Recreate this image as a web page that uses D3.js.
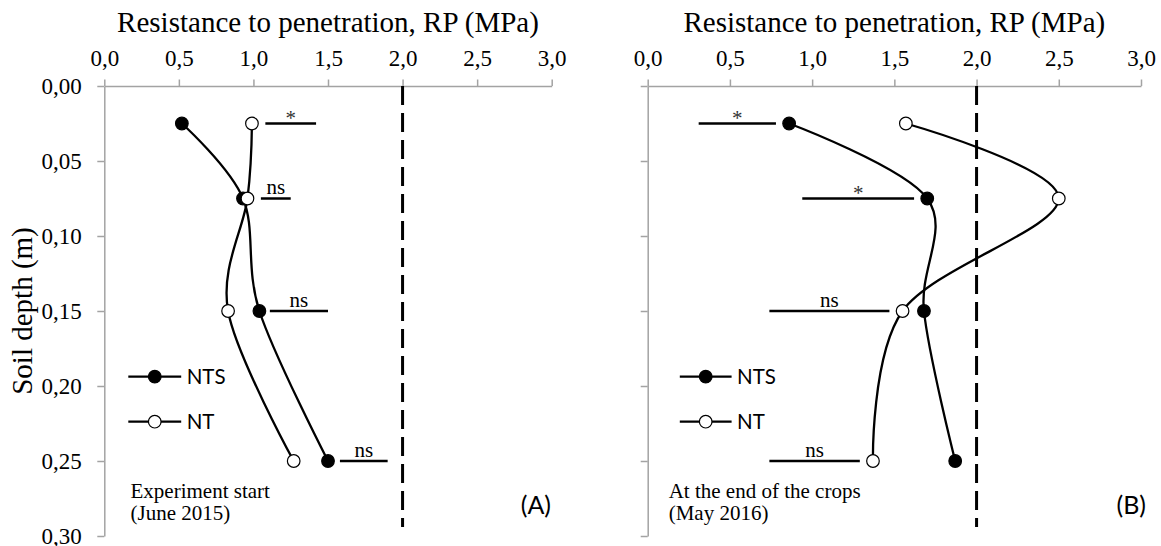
<!DOCTYPE html>
<html>
<head>
<meta charset="utf-8">
<script src="https://cdn.jsdelivr.net/npm/d3@7"></script>
<style>
  html, body { margin: 0; padding: 0; background: #fff; }
  svg { display: block; }
</style>
</head>
<body>
<svg id="chart" width="1161" height="546"></svg>
<script>
// Sampling depths (m)
const depths = [0.025, 0.075, 0.15, 0.25];

// Resistance to penetration (MPa) at the start of the experiment (June 2015)
const ntsStart = [0.52, 0.93, 1.04, 1.50];
const ntStart  = [0.99, 0.96, 0.83, 1.27];

// Resistance to penetration (MPa) at the end of the crops (May 2016)
const ntsEnd = [0.86, 1.70, 1.68, 1.87];
const ntEnd  = [1.57, 2.50, 1.55, 1.37];

// Least significant difference bars and test result per depth
const lsdStartLo = [1.08, 1.05, 1.11, 1.58];
const lsdStartHi = [1.42, 1.25, 1.50, 1.90];
const lsdStartLabel = ["*", "ns", "ns", "ns"];
const lsdEndLo = [0.31, 0.94, 0.74, 0.74];
const lsdEndHi = [0.78, 1.62, 1.47, 1.29];
const lsdEndLabel = ["*", "*", "ns", "ns"];

// Critical resistance threshold (MPa)
const criticalRP = 2.0;

// Axis ticks
const rpTicks = [0, 0.5, 1.0, 1.5, 2.0, 2.5, 3.0];
const depthTicks = [0, 0.05, 0.10, 0.15, 0.20, 0.25, 0.30];

const seriesNames = ["NTS", "NT"];

const svg = d3.select("#chart");
const SERIF = "'Liberation Serif', 'Times New Roman', serif";
const SANS = "Lato, 'Open Sans', sans-serif";
const AXIS_GREY = "#a3a3a3";

const locale = d3.formatLocale({ decimal: ",", thousands: ".", grouping: [3], currency: ["", ""] });
const fmtX = locale.format(".1f");
const fmtY = locale.format(".2f");

const panels = [
  { left: 104.3, right: 551.7, nts: ntsStart, nt: ntStart,
    lo: lsdStartLo, hi: lsdStartHi, lab: lsdStartLabel,
    yLabels: true, legendX: [128.3, 181.2], note: ["Experiment start", "(June 2015)"],
    noteX: 130.5, tag: "(A)", tagX: 551 },
  { left: 647.7, right: 1141, nts: ntsEnd, nt: ntEnd,
    lo: lsdEndLo, hi: lsdEndHi, lab: lsdEndLabel,
    yLabels: false, legendX: [679.8, 731.6], note: ["At the end of the crops", "(May 2016)"],
    noteX: 668.7, tag: "(B)", tagX: 1146 }
];

const plotTop = 86, plotBottom = 536;
const y = d3.scaleLinear().domain([0, 0.30]).range([plotTop, plotBottom]);

panels.forEach(p => {
  const g = svg.append("g");
  const x = d3.scaleLinear().domain([0, 3]).range([p.left, p.right]);

  // Title above the horizontal axis
  g.append("text")
    .attr("x", (p.left + p.right) / 2).attr("y", 31.5)
    .attr("text-anchor", "middle")
    .style("font-family", SERIF).style("font-size", "29px")
    .text("Resistance to penetration, RP (MPa)");

  // Horizontal axis on top
  const xAxis = g.append("g").attr("transform", `translate(0,${plotTop})`)
    .call(d3.axisTop(x).tickValues(rpTicks).tickFormat(fmtX)
      .tickSize(6.5).tickSizeOuter(0).tickPadding(14));
  // Vertical axis on the left
  const yAxis = g.append("g").attr("transform", `translate(${p.left},0)`)
    .call(d3.axisLeft(y).tickValues(depthTicks)
      .tickFormat(p.yLabels ? fmtY : () => "")
      .tickSize(7).tickSizeOuter(0).tickPadding(15.5));
  [xAxis, yAxis].forEach(a => {
    a.attr("font-family", null).attr("font-size", null);
    a.select(".domain").attr("stroke", AXIS_GREY).attr("stroke-width", 1.5);
    a.selectAll(".tick line").attr("stroke", AXIS_GREY).attr("stroke-width", 1.5);
    a.selectAll(".tick text").attr("fill", "#000")
      .style("font-family", SERIF).style("font-size", "23px");
  });

  // Critical resistance line
  g.append("line")
    .attr("x1", x(criticalRP)).attr("x2", x(criticalRP))
    .attr("y1", plotTop).attr("y2", 527)
    .attr("stroke", "#000").attr("stroke-width", 3)
    .attr("stroke-dasharray", "19,8");

  // LSD bars with significance labels
  depths.forEach((d, i) => {
    g.append("line")
      .attr("x1", x(p.lo[i])).attr("x2", x(p.hi[i]))
      .attr("y1", y(d)).attr("y2", y(d))
      .attr("stroke", "#000").attr("stroke-width", 2.5);
    const star = p.lab[i] === "*";
    g.append("text")
      .attr("x", x((p.lo[i] + p.hi[i]) / 2))
      .attr("y", y(d) + (star ? 1 : -4.5))
      .attr("text-anchor", "middle")
      .attr("fill", star ? "#333" : "#000")
      .style("font-family", SERIF).style("font-size", "21px")
      .text(p.lab[i]);
  });

  // Smoothed depth profiles
  const line = d3.line()
    .x(v => x(v[0])).y(v => y(v[1]))
    .curve(d3.curveCardinal.tension(0));
  const series = [
    { name: seriesNames[0], values: p.nts, fill: "#000" },
    { name: seriesNames[1], values: p.nt, fill: "#fff" }
  ];
  series.forEach(s => {
    g.append("path")
      .datum(s.values.map((v, i) => [v, depths[i]]))
      .attr("d", line)
      .attr("fill", "none").attr("stroke", "#000").attr("stroke-width", 2.3);
  });
  series.forEach(s => {
    g.selectAll(null).data(s.values).enter().append("circle")
      .attr("cx", v => x(v)).attr("cy", (v, i) => y(depths[i]))
      .attr("r", 6.3)
      .attr("fill", s.fill).attr("stroke", "#000").attr("stroke-width", 1.2);
  });

  // Legend
  series.forEach((s, k) => {
    const ly = 376.7 + k * 45;
    const [lx1, lx2] = p.legendX;
    g.append("line").attr("x1", lx1).attr("x2", lx2).attr("y1", ly).attr("y2", ly)
      .attr("stroke", "#000").attr("stroke-width", 2.3);
    g.append("circle").attr("cx", (lx1 + lx2) / 2).attr("cy", ly).attr("r", 6.3)
      .attr("fill", s.fill).attr("stroke", "#000").attr("stroke-width", 1.2);
    g.append("text").attr("x", lx2 + 5.5).attr("y", ly + 7.5)
      .style("font-family", SANS).style("font-size", "20.5px")
      .text(s.name);
  });

  // Sampling date note
  p.note.forEach((t, k) => {
    g.append("text").attr("x", p.noteX).attr("y", 497.5 + k * 22.5)
      .style("font-family", SERIF).style("font-size", "21px")
      .text(t);
  });

  // Panel tag
  g.append("text").attr("x", p.tagX).attr("y", 514)
    .attr("text-anchor", "end")
    .style("font-family", SANS).style("font-size", "25px")
    .text(p.tag);
});

// Vertical axis title
svg.append("text")
  .attr("transform", `translate(32,${(plotTop + plotBottom) / 2}) rotate(-90)`)
  .attr("text-anchor", "middle")
  .style("font-family", SERIF).style("font-size", "29px")
  .text("Soil depth (m)");
</script>
</body>
</html>
